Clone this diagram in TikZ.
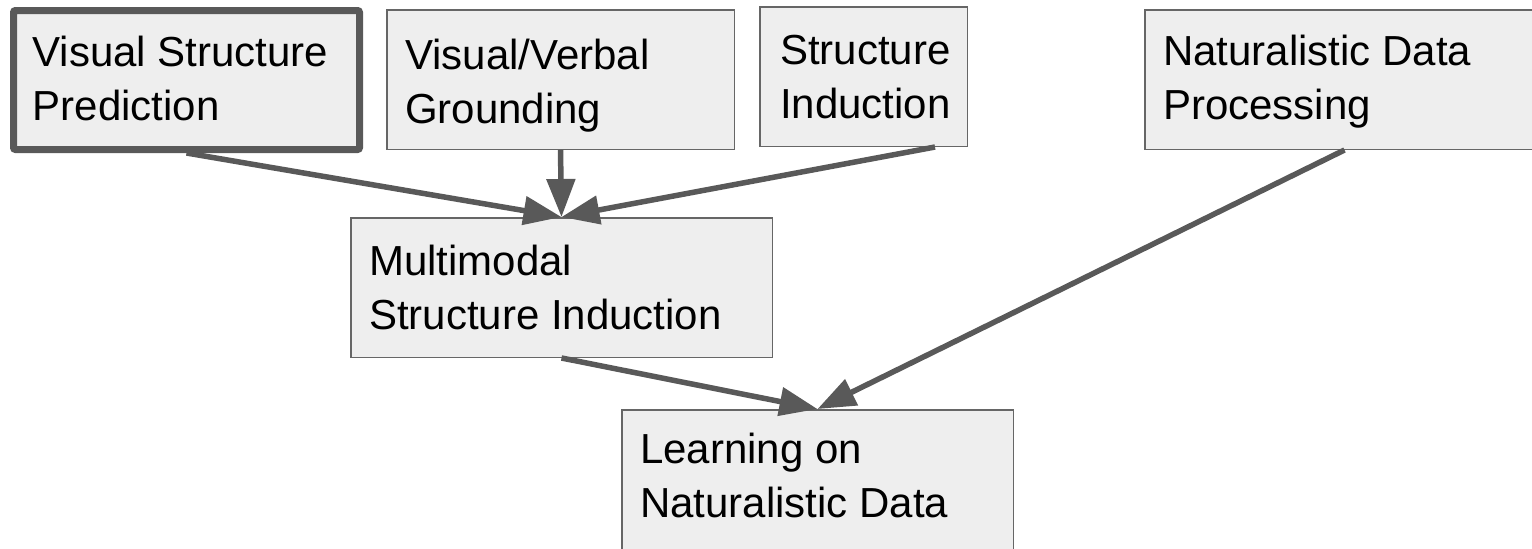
\documentclass[tikz,border=0pt]{standalone}
\usepackage{fontspec}
\setmainfont{Liberation Sans}
\usetikzlibrary{arrows.meta}
\definecolor{boxfill}{HTML}{EEEEEE}
\definecolor{edgegray}{HTML}{666666}
\definecolor{arrowgray}{HTML}{595959}

\begin{document}
\begin{tikzpicture}[x=1pt, y=1pt,
    box/.style={draw=edgegray, fill=boxfill, line width=1.5pt, inner sep=0pt},
    boxtext/.style={anchor=base west, inner sep=0pt, align=left,
                    font=\fontsize{42}{54}\selectfont},
    flow/.style={draw=arrowgray, line width=5.5pt,
                 -{Triangle[length=38pt, width=28pt]}}]
  \useasboundingbox (0,0) rectangle (1532,-549);
  \clip (0,0) rectangle (1532,-549);
  % Top row of boxes (first one highlighted)
  \node[box, draw=arrowgray, line width=7pt, rounded corners=2pt,
        minimum width=346pt, minimum height=139pt] (vsp) at (186.5,-80) {};
  \node[box, minimum width=347.5pt, minimum height=139.5pt] (grnd) at (560.5,-79.5) {};
  \node[box, minimum width=207.5pt, minimum height=139.5pt] (sind) at (863.5,-76.5) {};
  \node[box, minimum width=399.5pt, minimum height=139.5pt] (ndp) at (1344.5,-79.5) {};
  % Middle and bottom boxes
  \node[box, minimum width=421.5pt, minimum height=139.5pt] (msi) at (561.5,-287.5) {};
  \node[box, minimum width=391.5pt, minimum height=149.5pt] (lnd) at (817.5,-484.5) {};
  % Box texts (anchored at the last baseline)
  \node[boxtext] (vsptxt) at ([shift={(22.5,-113)}]vsp.north west) {Visual Structure\\Prediction};
  \node[boxtext] (grndtxt) at ([shift={(19,-114)}]grnd.north west) {Visual/Verbal\\Grounding};
  \node[boxtext] (sindtxt) at ([shift={(21,-112)}]sind.north west) {Structure\\Induction};
  \node[boxtext] (ndptxt) at ([shift={(19,-110)}]ndp.north west) {Naturalistic Data\\Processing};
  \node[boxtext] (msitxt) at ([shift={(19,-112)}]msi.north west) {Multimodal\\Structure Induction};
  \node[boxtext] (lndtxt) at ([shift={(19,-108)}]lnd.north west) {Learning on\\Naturalistic Data};
  % Arrows
  \draw[flow] (vsp.south) -- (msi.north);
  \draw[flow] (grnd.south) -- (msi.north);
  \draw[flow] ([xshift=-33]sind.south east) -- (msi.north);
  \draw[flow] (msi.south) -- (lnd.north);
  \draw[flow] (ndp.south) -- (lnd.north);
\end{tikzpicture}
\end{document}
